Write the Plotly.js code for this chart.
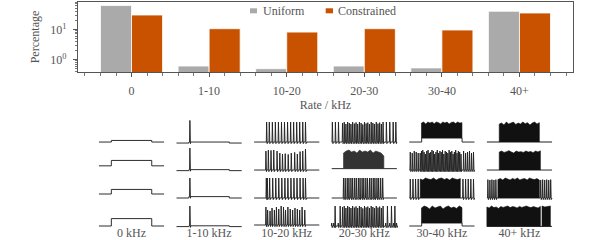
<!DOCTYPE html>
<html><head><meta charset="utf-8">
<script src="https://cdn.plot.ly/plotly-3.0.1.min.js"></script>
<style>html,body{margin:0;padding:0;background:#fff}#chart{width:603px;height:240px}</style>
</head><body><div id="chart"></div>
<script>
// ---------- bar chart data ----------
const categories = ['0', '1-10', '10-20', '20-30', '30-40', '40+'];
const categoryIndex = [0, 1, 2, 3, 4, 5];
const seriesNames = ['Uniform', 'Constrained'];
const uniformPct = [62, 0.6, 0.49, 0.6, 0.52, 40];
const constrainedPct = [30, 10.5, 8.1, 10.5, 9.5, 35];
const yTickVals = [1, 10];
const yTickText = ['10<sup>0</sup>', '10<sup>1</sup>'];
const yMinorVals = [0.4, 0.5, 0.6, 0.7, 0.8, 0.9, 2, 3, 4, 5, 6, 7, 8, 9, 20, 30, 40, 50, 60, 70, 80];

// ---------- example voltage traces (time as fraction of window) ----------
const panelLabels = ['0 kHz', '1-10 kHz', '10-20 kHz', '20-30 kHz', '30-40 kHz', '40+ kHz'];
const stimWindow = [0.19, 0.81];
// resting level per column/row (spike-height units) and the step added during stimulus
const restLevel = [[0, 0.21, 0.2, 0], [-0.05, -0.03, 0, -0.03], [0, 0, 0, 0.05], [0, 0.07, 0, 0], [0, 0, 0, 0], [0, 0, 0, -0.02]];
const stimStep  = [[0.08, 0.27, 0.23, 0.37], [0.05, 0.05, 0.07, 0.04], [0, 0, 0, 0], [0, 0, 0, 0], [0.2, 0, 0, 0.15], [0, 0, 0, 0]];

const col3Dense = [0.166,0.192,0.218,0.244,0.269,0.295,0.321,0.347,0.373,0.399,0.425,0.451,0.477,0.503,0.528,0.554,0.580,0.606,0.632,0.658,0.684,0.710,0.736,0.762,0.788];
const col3DenseH = [0.95,1.0,0.9,1.0,0.95,0.9,1.0,0.92,0.98,0.9,1.0,0.95,0.88,1.0,0.93,0.97,0.9,1.0,0.95,0.9,1.0,0.92,0.97,0.9,1.0];

const spikeTimes = [
  [[], [], [], []],
  [[0.205], [0.205], [0.205], [0.205]],
  [
    [0.192,0.233,0.280,0.326,0.373,0.420,0.466,0.513,0.560,0.606,0.653,0.699,0.746,0.788],
    [0.181,0.218,0.259,0.301,0.352,0.394,0.435,0.477,0.523,0.570,0.622,0.663,0.705,0.746,0.788],
    [0.187,0.202,0.238,0.285,0.332,0.378,0.425,0.472,0.518,0.565,0.611,0.658,0.705,0.751,0.788],
    [0.181,0.207,0.244,0.275,0.311,0.342,0.378,0.415,0.451,0.482,0.518,0.554,0.591,0.627,0.663,0.699,0.736,0.777]
  ],
  [
    [0.010,0.057,0.104].concat(col3Dense, [0.839,0.891,0.943,0.984]),
    [],
    [0.181,0.207,0.238,0.264,0.295,0.321,0.352,0.378,0.409,0.435,0.466,0.492,0.523,0.549,0.580,0.606,0.637,0.663,0.694,0.720,0.751,0.782],
    [0.0,0.031,0.052,0.1,0.13].concat(col3Dense, [0.829,0.855,0.891,0.917,0.948,0.969,0.995])
  ],
  [
    [],
    [0.015,0.045,0.076,0.106,0.136,
     0.167,0.187,0.207,0.227,0.247,0.268,0.288,0.308,0.328,0.348,0.369,0.389,0.409,0.429,0.449,0.470,
     0.490,0.510,0.530,0.551,0.571,0.591,0.611,0.631,0.652,0.672,0.692,0.712,0.732,0.753,0.773,0.793,
     0.833,0.864,0.894,0.924,0.955,0.985],
    [0.015,0.056,0.096,0.136,0.823,0.864,0.904,0.944,0.985],
    []
  ],
  [
    [],
    [],
    [0.015,0.046,0.077,0.108,0.138,0.826,0.856,0.887,0.918,0.949,0.979],
    []
  ]
];

const spikeHeights = [
  [[], [], [], []],
  [[1.08], [1.1], [1.0], [1.0]],
  [
    [1,1,1,1,1,1,1,1,1,1,1,1,1,1],
    [0.95,1.0,0.98,1.0,0.95,0.85,0.8,0.82,0.78,0.85,0.88,0.8,0.92,0.95,1.05],
    [1,1,1,1,1,1,1,1,1,1,1,1,1,1,1],
    [0.95,0.8,0.75,0.9,0.8,0.95,0.85,1.0,0.95,0.8,0.95,0.85,0.8,0.9,0.85,0.8,0.95,0.8]
  ],
  [
    [1,1,1].concat(col3DenseH, [1,1,1,1]),
    [],
    [1,1,1,1,1,1,1,1,1,1,1,1,1,1,1,1,1,1,1,1,1,1],
    [0.15,0.15,1.0,0.15,1.0].concat(col3DenseH, [0.15,1.0,0.15,1.0,0.15,1.0,0.15])
  ],
  [
    [],
    [0.9,0.85,0.95,0.9,0.85,
     0.85,0.95,1.0,0.9,0.8,0.95,1.0,0.85,0.9,1.0,0.95,0.8,0.9,1.0,0.85,0.95,
     0.9,1.0,0.8,0.95,0.9,0.85,1.0,0.9,0.95,0.8,0.9,1.0,0.85,0.95,0.9,0.8,
     0.95,0.85,0.9,0.95,0.85,0.9],
    [0.95,0.95,0.95,0.95,0.95,0.95,0.95,0.95,0.95],
    []
  ],
  [
    [],
    [],
    [0.92,0.9,0.92,0.9,0.92,0.9,0.92,0.9,0.92,0.9,0.92],
    []
  ]
];

// dense firing shown as solid blocks: [start, end, tip heights]
const spikeBlocks = [
  [[], [], [], []],
  [[], [], [], []],
  [[], [], [], []],
  [[], [[0.181, 0.80, [0.85,0.95,1.0,0.9,0.95,0.85,1.0,0.9,0.95,0.9,1.0,0.85,0.95,0.9,0.85,0.7]]], [], []],
  [
    [[0.187, 0.808, [0.95,1.0,0.9,1.0,0.95,1.0,0.92,1.0,0.97,0.9,1.0,0.95,1.0,0.9,0.98,1.0,0.93,1.0,0.95,0.97]]],
    [],
    [[0.167, 0.783, [0.95,0.9,1.0,0.95,0.92,1.0,0.9,0.97,1.0,0.93,0.98,0.9,1.0,0.95,0.92,0.97]]],
    [[0.187, 0.808, [0.9,1.0,0.95,0.85,1.0,0.9,0.95,1.0,0.85,0.95,1.0,0.9,0.95,0.88,1.0,0.92]]]
  ],
  [
    [[0.19, 0.805, [0.9,0.95,0.85,1.0,0.9,0.95,1.0,0.88,0.95,0.9,1.0,0.92,0.97,0.85,0.95,1.0,0.9,0.97]]],
    [[0.19, 0.821, [0.9,0.95,0.88,0.92,0.97,0.9,0.85,0.95,0.9,0.92,0.88,0.95,0.9,0.93,0.87,0.95,0.9,0.96]]],
    [[0.169, 0.805, [0.92,0.97,0.9,1.0,0.95,0.9,0.98,0.93,1.0,0.9,0.95,0.97,0.9,1.0,0.95,0.92,0.97,0.9]]],
    [[0.0, 0.821, [0.95,0.9,1.0,0.92,0.95,0.88,0.97,0.93,0.95,1.0,0.92,0.97,0.95,0.9,0.98,0.93,0.96,1.0,0.95,0.92,0.97,0.95,0.9,0.98]],
     [0.846, 0.974, [1.0,0.95,0.98,1.0]]]
  ]
];
const blockShade = [[], [], [], ['#111', '#333', '#111', '#111'], [], []];

// ---------- build ----------
const FONT = 'Liberation Serif, Times New Roman, serif';
const TXT = '#555';
const GRAY = '#aaaaaa', ORANGE = '#c85200';
const HALF = 0.42, ROW = 1.4;
const tx = (c, t) => c - HALF + 2 * HALF * t;

const traces = [
  {type: 'bar', x: categoryIndex, y: uniformPct, name: seriesNames[0], marker: {color: GRAY, line: {color: '#fff', width: 0.8}}, showlegend: false, xaxis: 'x', yaxis: 'y', hoverinfo: 'skip'},
  {type: 'bar', x: categoryIndex, y: constrainedPct, name: seriesNames[1], marker: {color: ORANGE, line: {color: '#fff', width: 0.8}}, showlegend: false, xaxis: 'x', yaxis: 'y', hoverinfo: 'skip'}
];

for (let c = 0; c < 6; c++) {
  for (let r = 0; r < 4; r++) {
    const y0 = -r * ROW;
    const rest = restLevel[c][r], stim = rest + stimStep[c][r];
    const [on, off] = stimWindow;
    const lvl = t => (t >= on && t <= off) ? stim : rest;
    const ev = spikeTimes[c][r].map((t, i) => ({t, h: spikeHeights[c][r][i]}));
    ev.push({t: on, step: true, from: rest, to: stim});
    ev.push({t: off, step: true, from: stim, to: rest});
    ev.sort((a, b) => a.t - b.t);
    const xs = [tx(c, 0)], ys = [y0 + rest];
    for (const e of ev) {
      if (e.step) { xs.push(tx(c, e.t), tx(c, e.t)); ys.push(y0 + e.from, y0 + e.to); }
      else {
        const b = y0 + lvl(e.t);
        xs.push(tx(c, e.t - 0.005), tx(c, e.t), tx(c, e.t + 0.008), tx(c, e.t + 0.013));
        ys.push(b, y0 + e.h, b - 0.08, b);
      }
    }
    xs.push(tx(c, 1)); ys.push(y0 + rest);
    const grayBase = (c === 5 && r === 0);
    traces.push({type: 'scatter', mode: 'lines', x: xs, y: ys, xaxis: 'x2', yaxis: 'y2', showlegend: false, hoverinfo: 'skip',
      line: {color: grayBase ? '#8f8f8f' : '#222', width: grayBase ? 2 : 0.95}});
    for (const [t0, t1, top] of spikeBlocks[c][r]) {
      const base = y0 + lvl((t0 + t1) / 2);
      const bx = [tx(c, t0)], by = [base];
      top.forEach((h, i) => { bx.push(tx(c, t0 + (t1 - t0) * i / (top.length - 1))); by.push(y0 + h); });
      bx.push(tx(c, t1)); by.push(base);
      const shade = (blockShade[c] && blockShade[c][r]) || '#111';
      traces.push({type: 'scatter', mode: 'lines', x: bx, y: by, fill: 'toself', fillcolor: shade, xaxis: 'x2', yaxis: 'y2',
        showlegend: false, hoverinfo: 'skip', line: {color: shade, width: 0.6}});
    }
  }
}

// legend drawn as swatches + labels inside the top plot
const legendSwatches = [
  {type: 'rect', xref: 'paper', yref: 'paper', x0: 0.3475, x1: 0.3616, y0: 0.9504, y1: 0.9724, fillcolor: GRAY, line: {width: 0}},
  {type: 'rect', xref: 'paper', yref: 'paper', x0: 0.5004, x1: 0.5152, y0: 0.9504, y1: 0.9724, fillcolor: ORANGE, line: {width: 0}}
];
const legendLabels = [
  {xref: 'paper', yref: 'paper', x: 0.369, y: 0.9614, xanchor: 'left', yanchor: 'middle', text: seriesNames[0], showarrow: false,
   font: {family: FONT, size: 12, color: TXT}},
  {xref: 'paper', yref: 'paper', x: 0.5206, y: 0.9614, xanchor: 'left', yanchor: 'middle', text: seriesNames[1], showarrow: false,
   font: {family: FONT, size: 12, color: TXT}}
];

const layout = {
  width: 603, height: 240,
  margin: {l: 78, r: 30, t: 2, b: 10},
  paper_bgcolor: '#fff', plot_bgcolor: '#fff',
  font: {family: FONT, size: 12, color: TXT},
  barmode: 'group', bargap: 0.2, bargroupgap: 0,
  showlegend: false,
  shapes: legendSwatches,
  annotations: legendLabels,
  xaxis: {domain: [0, 1], anchor: 'y', range: [-0.69, 5.69], tickmode: 'array', tickvals: categoryIndex, ticktext: categories,
    ticks: 'outside', ticklen: 4, tickcolor: '#555', showline: true, mirror: true, linecolor: '#555', linewidth: 1.2,
    showgrid: false, zeroline: false, ticklabelstandoff: 3,
    minor: {tick0: 0, dtick: 0.2, ticks: 'outside', ticklen: 2.5, tickcolor: '#777', showgrid: false},
    title: {text: 'Rate / kHz', font: {family: FONT, size: 12, color: TXT}, standoff: 4}},
  yaxis: {domain: [0.693, 1], anchor: 'x', type: 'log', range: [-0.42, 1.91], tickmode: 'array', tickvals: yTickVals, ticktext: yTickText,
    ticks: 'outside', ticklen: 4, tickcolor: '#555', showline: true, mirror: true, linecolor: '#555', linewidth: 1.2,
    showgrid: false, zeroline: false, ticklabelstandoff: 4,
    minor: {tickvals: yMinorVals, ticks: 'outside', ticklen: 2, tickcolor: '#777', showgrid: false},
    title: {text: 'Percentage', font: {family: FONT, size: 12, color: TXT}, standoff: 8}},
  xaxis2: {domain: [0, 1], anchor: 'free', position: 0.025, range: [-0.69, 5.69], tickmode: 'array', tickvals: categoryIndex, ticktext: panelLabels,
    ticks: '', showline: false, showgrid: false, zeroline: false, tickfont: {family: FONT, size: 12, color: TXT}},
  yaxis2: {domain: [0, 0.491], anchor: 'x2', range: [-4.4, 1.2], visible: false, showgrid: false, zeroline: false}
};

Plotly.newPlot('chart', traces, layout, {staticPlot: true, displayModeBar: false});
</script></body></html>
